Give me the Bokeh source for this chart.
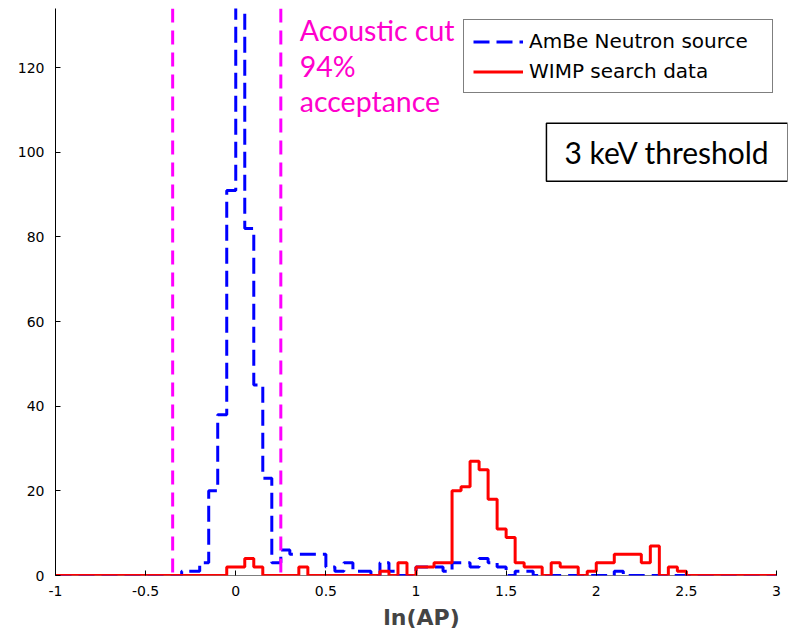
from bokeh.plotting import figure
from bokeh.models import Label, Span, FixedTicker
from bokeh.embed import file_html
from bokeh.resources import INLINE

# ---- data -------------------------------------------------------------
bin_start = -1.0
bin_width = 0.05
n_bins = 80

# AmBe neutron source counts per 0.05 bin, from ln(AP) = -1 to 3
ambe_counts = [
    0, 0, 0, 0, 0, 0, 0, 0, 0, 0,        # -1.00 .. -0.55
    0, 0, 0, 0, 1, 1, 3, 20, 38, 91,     # -0.50 .. -0.05
    150, 82, 45, 23, 3, 6, 5, 5, 5, 5,   #  0.00 ..  0.45
    2, 1, 3, 1, 1, 0, 3, 1, 0, 0,        #  0.50 ..  0.95
    2, 2, 2, 1, 3, 3, 2, 4, 3, 2,        #  1.00 ..  1.45
    0, 1, 1, 0, 0, 0, 0, 0, 0, 0,        #  1.50 ..  1.95
    0, 0, 1, 0, 0, 0, 0, 0, 0, 0,        #  2.00 ..  2.45
    0, 0, 0, 0, 0, 0, 0, 0, 0, 0,        #  2.50 ..  2.95
]

# WIMP search data counts per 0.05 bin
wimp_counts = [
    0, 0, 0, 0, 0, 0, 0, 0, 0, 0,        # -1.00 .. -0.55
    0, 0, 0, 0, 0, 0, 0, 0, 0, 2,        # -0.50 .. -0.05
    2, 4, 2, 0, 0, 0, 0, 2, 0, 0,        #  0.00 ..  0.45
    0, 0, 0, 0, 0, 0, 1, 0, 3, 0,        #  0.50 ..  0.95
    2, 2, 3, 3, 20, 21, 27, 25, 18, 11,  #  1.00 ..  1.45
    9, 3, 2, 2, 0, 3, 2, 2, 0, 1,        #  1.50 ..  1.95
    3, 3, 5, 5, 5, 3, 7, 0, 2, 1,        #  2.00 ..  2.45
    0, 0, 0, 0, 0, 0, 0, 0, 0, 0,        #  2.50 ..  2.95
]

cut_low = -0.35
cut_high = 0.25

x_ticks = [-1, -0.5, 0, 0.5, 1, 1.5, 2, 2.5, 3]
x_tick_labels = ["-1", "-0.5", "0", "0.5", "1", "1.5", "2", "2.5", "3"]
y_ticks = [0, 20, 40, 60, 80, 100, 120]

edges = [round(bin_start + bin_width * i, 4) for i in range(n_bins + 1)]

# ---- figure -----------------------------------------------------------
# the frame is a little wider than the axis (-1..3) so that the threshold
# box, which sticks out past the axes in the original, is not clipped
p = figure(
    frame_width=732, frame_height=567,
    x_range=(-1, 3.061), y_range=(0, 134),
    output_backend="svg", toolbar_location=None,
    min_border_left=55, min_border_right=4,
    min_border_top=8, min_border_bottom=30,
)
p.outline_line_color = None
p.xgrid.visible = False
p.ygrid.visible = False
p.background_fill_color = "white"
p.border_fill_color = "white"

# x axis line drawn only over the -1..3 span
p.segment(x0=[x_ticks[0]], y0=[y_ticks[0]], x1=[x_ticks[-1]], y1=[y_ticks[0]],
          line_color="black", line_width=1)

p.step(edges, ambe_counts + [ambe_counts[-1]], mode="after",
       line_color="#0000FF", line_width=3, line_dash="16 7",
       legend_label="AmBe Neutron source")
p.step(edges, wimp_counts + [wimp_counts[-1]], mode="after",
       line_color="#FF0000", line_width=3,
       legend_label="WIMP search data")

for loc in (cut_low, cut_high):
    p.add_layout(Span(location=loc, dimension="height",
                      line_color="#FF00FF", line_width=3, line_dash="14 8"))

# axes
for ax in (p.xaxis[0], p.yaxis[0]):
    ax.major_tick_in = 5
    ax.major_tick_out = 0
    ax.minor_tick_line_color = None
    ax.axis_line_color = "black"
    ax.major_tick_line_color = "black"
    ax.major_label_text_font = "DejaVu Sans"
    ax.major_label_text_font_size = "14px"
    ax.major_label_text_color = "black"

p.xaxis.axis_line_color = None
p.xaxis.ticker = FixedTicker(ticks=x_ticks)
p.xaxis.major_label_overrides = dict(zip(x_ticks, x_tick_labels))
p.xaxis.major_label_standoff = 10
p.xaxis.axis_label = "ln(AP)"
p.xaxis.axis_label_text_font = "DejaVu Sans"
p.xaxis.axis_label_text_font_style = "bold"
p.xaxis.axis_label_text_font_size = "22px"
p.xaxis.axis_label_standoff = 6

p.yaxis.ticker = FixedTicker(ticks=y_ticks)
p.yaxis.major_label_standoff = 11

# legend
lg = p.legend[0]
lg.location = (408, 482)
lg.margin = 0
lg.padding = 9
lg.spacing = 6
lg.glyph_width = 50
lg.glyph_height = 23
lg.label_height = 23
lg.label_width = 234
lg.label_standoff = 6
lg.label_text_font = "DejaVu Sans"
lg.label_text_font_size = "20px"
lg.label_text_color = "black"
lg.border_line_color = "black"
lg.border_line_width = 1
lg.background_fill_alpha = 1
lg.background_fill_color = "white"

# annotations
ann_lines = ["Acoustic cut", "94%", "acceptance"]
ann_y = [129.0, 120.5, 112.2]
for txt, yy in zip(ann_lines, ann_y):
    p.add_layout(Label(x=0.355, y=yy, text=txt, text_font="Lato",
                       text_font_size="28.5px", text_color="#FF00CC",
                       text_baseline="alphabetic", text_align="left"))

p.add_layout(Label(x=2.393, y=100, text="3 keV threshold", text_font="Lato",
                   text_font_size="30px", text_color="black",
                   text_align="center", text_baseline="middle",
                   border_line_color="black", border_line_width=1.5,
                   background_fill_color="white",
                   padding=dict(left=18, right=18, top=11, bottom=11)))

open("out.html", "w").write(file_html(p, INLINE))
